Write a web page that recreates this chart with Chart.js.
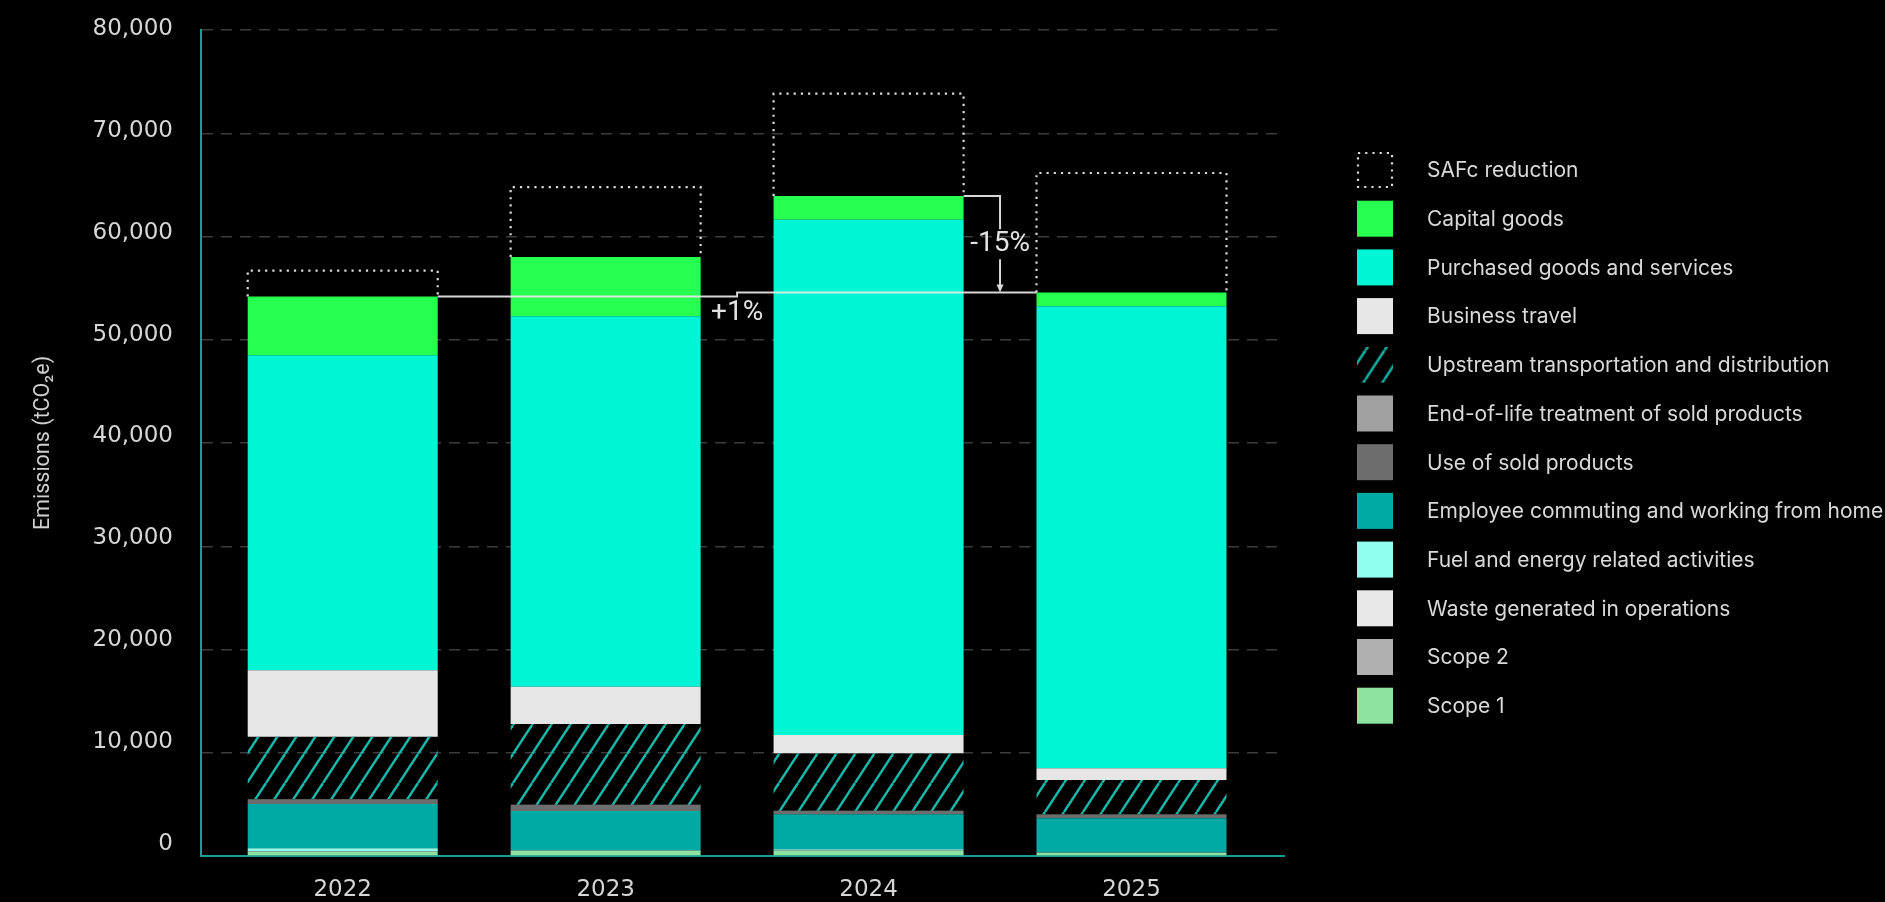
<!DOCTYPE html>
<html>
<head>
<meta charset="utf-8">
<title>Emissions by category</title>
<script src="https://cdn.jsdelivr.net/npm/chart.js@4.4.1/dist/chart.umd.min.js"></script>
<style>
html, body { margin: 0; padding: 0; background: #000; }
#wrap { width: 1885px; height: 902px; }
</style>
</head>
<body>
<div id="wrap"><canvas id="emissions_chart" width="1885" height="902"></canvas></div>
<script>
// values in tCO2e (stack order bottom -> top)
const years = ["2022", "2023", "2024", "2025"];
const scope1 = [400, 480, 500, 300];
const scope2 = [20, 20, 20, 15];
const waste = [15, 10, 10, 10];
const fuelEnergy = [310, 40, 130, 25];
const employeeCommuting = [4290, 3800, 3375, 3300];
const useOfSoldProducts = [460, 590, 330, 360];
const endOfLife = [25, 30, 25, 25];
const upstreamTransport = [6030, 7810, 5550, 3325];
const businessTravel = [6450, 3610, 1770, 1130];
const purchasedGoods = [30500, 35880, 49920, 44750];
const capitalGoods = [5700, 5750, 2290, 1330];
const safcReduction = [2500, 6770, 9910, 11580];
const yTickValues = [0, 10000, 20000, 30000, 40000, 50000, 60000, 70000, 80000];
const changeLabels = ["+1%", "-15%"];

const canvas = document.getElementById("emissions_chart");
const mainCtx = canvas.getContext("2d");

const HATCH_W = 19, HATCH_H = 29;
const makeHatch = () => {
  const c = document.createElement("canvas");
  c.width = HATCH_W;
  c.height = HATCH_H;
  const g = c.getContext("2d");
  g.strokeStyle = "#1ab6aa";
  g.lineWidth = 2.5;
  for (let k = -1; k <= 1; k++) {
    g.beginPath();
    g.moveTo(k * HATCH_W, HATCH_H);
    g.lineTo(k * HATCH_W + HATCH_W, 0);
    g.stroke();
  }
  return mainCtx.createPattern(c, "repeat");
};
const hatch = makeHatch();

const series = [
  ["Scope 1", scope1, "#8fe3a0"],
  ["Scope 2", scope2, "#b0b0b0"],
  ["Waste generated in operations", waste, "#e8e8e8"],
  ["Fuel and energy related activities", fuelEnergy, "#8ffff0"],
  ["Employee commuting and working from home", employeeCommuting, "#00aaa4"],
  ["Use of sold products", useOfSoldProducts, "#6d6d6d"],
  ["End-of-life treatment of sold products", endOfLife, "#a0a0a0"],
  ["Upstream transportation and distribution", upstreamTransport, hatch],
  ["Business travel", businessTravel, "#e6e6e6"],
  ["Purchased goods and services", purchasedGoods, "#00f5d4"],
  ["Capital goods", capitalGoods, "#26ff50"],
  ["SAFc reduction", safcReduction, "transparent"],
];
const CAPITAL = 10;

// SAFc: dotted outline on top of the solid stack
const dottedSafc = {
  id: "dottedSafc",
  afterDatasetsDraw(chart) {
    const ctx = chart.ctx;
    const meta = chart.getDatasetMeta(series.length - 1);
    ctx.save();
    ctx.strokeStyle = "#d9d9d9";
    ctx.lineWidth = 2.2;
    ctx.setLineDash([2.2, 5]);
    meta.data.forEach(bar => {
      const { x, y, base, width } = bar.getProps(["x", "y", "base", "width"], true);
      const l = x - width / 2, r = x + width / 2;
      ctx.beginPath();
      ctx.moveTo(l, base);
      ctx.lineTo(l, y);
      ctx.lineTo(r, y);
      ctx.lineTo(r, base);
      ctx.stroke();
    });
    ctx.restore();
  }
};

// +1% / -15% connectors between the bar tops
const changeMarkers = {
  id: "changeMarkers",
  afterDatasetsDraw(chart) {
    const { ctx, scales: { x } } = chart;
    const tops = chart.getDatasetMeta(CAPITAL).data.map(b => b.getProps(["x", "y", "width"], true));
    const right = b => b.x + b.width / 2;
    const left = b => b.x - b.width / 2;
    ctx.save();
    ctx.strokeStyle = "rgba(232,232,232,0.92)";
    ctx.fillStyle = "rgba(232,232,232,0.92)";
    ctx.lineWidth = 2;

    const midA = x.getPixelForValue(1.5);
    ctx.beginPath();
    ctx.moveTo(right(tops[0]), tops[0].y);
    ctx.lineTo(midA, tops[0].y);
    ctx.lineTo(midA, tops[3].y);
    ctx.lineTo(left(tops[3]), tops[3].y);
    ctx.stroke();

    const midB = x.getPixelForValue(2.5);
    const labelY = (tops[2].y + tops[3].y) / 2;
    ctx.beginPath();
    ctx.moveTo(right(tops[2]), tops[2].y);
    ctx.lineTo(midB, tops[2].y);
    ctx.lineTo(midB, labelY - 15);
    ctx.moveTo(midB, labelY + 15);
    ctx.lineTo(midB, tops[3].y - 7);
    ctx.stroke();
    ctx.beginPath();
    ctx.moveTo(midB - 3.5, tops[3].y - 8);
    ctx.lineTo(midB + 3.5, tops[3].y - 8);
    ctx.lineTo(midB, tops[3].y);
    ctx.closePath();
    ctx.fill();

    ctx.font = "28px Roboto";
    ctx.textAlign = "center";
    ctx.textBaseline = "middle";
    ctx.fillStyle = "#e2e2e2";
    ctx.fillText(changeLabels[0], midA, tops[0].y + 17);
    ctx.fillText(changeLabels[1], midB, labelY);
    ctx.restore();
  }
};

// legend at the right, top entry = top of the stack
const sideLegend = {
  id: "sideLegend",
  afterDraw(chart) {
    const ctx = chart.ctx;
    const sets = chart.data.datasets.slice().reverse();
    ctx.save();
    ctx.font = "21px Inter";
    ctx.textBaseline = "middle";
    sets.forEach((ds, i) => {
      const cy = 170 + i * 48.7;
      const bx = 1357, s = 36, by = cy - s / 2;
      if (ds.backgroundColor === "transparent") {
        ctx.save();
        ctx.strokeStyle = "#d9d9d9";
        ctx.lineWidth = 2.2;
        ctx.setLineDash([2.2, 5]);
        ctx.strokeRect(bx + 1, by + 1, s - 2, s - 2);
        ctx.restore();
      } else if (ds.backgroundColor === hatch) {
        // centre one hatch stroke in the swatch
        const ox = bx + s / 2 - HATCH_W / 2, oy = by + s / 2 - HATCH_H / 2;
        ctx.save();
        ctx.beginPath();
        ctx.rect(bx, by, s, s);
        ctx.clip();
        ctx.translate(ox, oy);
        ctx.fillStyle = hatch;
        ctx.fillRect(bx - ox, by - oy, s, s);
        ctx.restore();
      } else {
        ctx.fillStyle = ds.backgroundColor;
        ctx.fillRect(bx, by, s, s);
      }
      ctx.fillStyle = "#d9d9d9";
      ctx.fillText(ds.label, 1427, cy + 1);
    });
    ctx.restore();
  }
};

const chart = new Chart(canvas, {
  type: "bar",
  data: {
    datasets: series.map(([label, values, color]) => ({
      label: label,
      data: values.map((v, i) => ({ x: i, y: v })),
      backgroundColor: color,
      borderWidth: 0,
    }))
  },
  options: {
    responsive: false,
    animation: false,
    events: [],
    layout: { padding: { top: 30, right: 601, bottom: 0, left: 0 } },
    datasets: { bar: { categoryPercentage: 1, barPercentage: 0.7227 } },
    plugins: {
      legend: { display: false },
      tooltip: { enabled: false },
    },
    scales: {
      x: {
        type: "linear",
        stacked: true,
        offset: false,
        bounds: "data",
        min: -0.539,
        max: 3.58,
        afterBuildTicks: axis => { axis.ticks = years.map((_, i) => ({ value: i })); },
        afterFit: axis => { axis.height = 46; axis.paddingLeft = 0; axis.paddingRight = 0; },
        grid: { display: false, drawTicks: false, offset: false },
        border: { color: "#179d91", width: 2 },
        ticks: {
          autoSkip: false,
          maxRotation: 0,
          padding: 20,
          color: "#d6d6d6",
          font: { family: "DejaVu Sans", size: 23 },
          callback: v => years[v] ?? "",
        },
      },
      y: {
        type: "linear",
        stacked: true,
        min: 0,
        max: 80000,
        weight: 0,
        afterFit: axis => { axis.width = 0; axis.paddingTop = 0; axis.paddingBottom = 0; },
        ticks: { display: false, stepSize: 10000 },
        grid: {
          color: c => (c.tick && c.tick.value === 0) ? "transparent" : "#3c3c3c",
          lineWidth: 1.5,
          drawTicks: false,
        },
        border: { color: "#179d91", width: 2, dash: [11, 8] },
      },
      // tick labels sit on a slightly compressed scale in the original
      yLabels: {
        type: "linear",
        axis: "y",
        position: "left",
        weight: 1,
        min: -1178,
        max: 79902,
        afterBuildTicks: axis => { axis.ticks = yTickValues.map(v => ({ value: v })); },
        afterFit: axis => { axis.width = 201; axis.paddingTop = 0; axis.paddingBottom = 0; },
        grid: { display: false, drawTicks: false },
        border: { display: false },
        ticks: {
          padding: 28,
          color: "#d6d6d6",
          font: { family: "DejaVu Sans", size: 23 },
          callback: v => v.toLocaleString("en-US"),
        },
        title: {
          display: true,
          text: "Emissions (tCO₂e)",
          color: "#cfcfcf",
          font: { family: "Roboto", size: 21.5 },
          padding: { top: 31, bottom: 0 },
        },
      },
    },
  },
  plugins: [dottedSafc, changeMarkers, sideLegend],
});
</script>
</body>
</html>
